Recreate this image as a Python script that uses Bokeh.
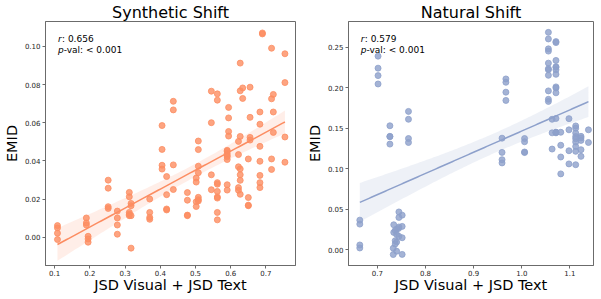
import numpy as np
from bokeh.plotting import figure
from bokeh.layouts import row
from bokeh.models import Range1d, FixedTicker, PrintfTickFormatter, Label
from bokeh.embed import file_html
from bokeh.resources import INLINE

# ---- Synthetic Shift data ----
syn_x = ([0.108]*4 + [0.190]*3 + [0.195]*3 + [0.252]*4 + [0.278]*4 + [0.312]*5 + [0.317]*4 +
         [0.370]*4 + [0.405]*4 + [0.418]*4 + [0.437]*4 + [0.477]*4 + [0.502]*4 + [0.508]*7 +
         [0.545]*4 + [0.562]*9 + [0.590]*8 + [0.594]*4 + [0.622]*5 + [0.627]*7 + [0.634]*2 +
         [0.650]*4 + [0.655]*4 + [0.683]*7 + [0.690]*2 + [0.716]*4 + [0.721]*3 + [0.754]*4)
syn_y = ([0.0061, 0.0049, 0.0021, -0.0012] +
         [0.0101, 0.0075, 0.0064] +
         [0.0005, -0.0009, -0.0026] +
         [0.0299, 0.0257, 0.0160, 0.0151] +
         [0.0137, 0.0101, 0.0064, 0.0016] +
         [0.0235, 0.0212, 0.0130, 0.0120, 0.0113] +
         [0.0177, 0.0165, 0.0113, -0.0057] +
         [0.0200, 0.0130, 0.0104, 0.0094] +
         [0.0585, 0.0460, 0.0377, 0.0357] +
         [0.0318, 0.0223, 0.0148, 0.0143] +
         [0.0712, 0.0667, 0.0379, 0.0250] +
         [0.0234, 0.0194, 0.0116, 0.0113] +
         [0.0310, 0.0289, 0.0186, 0.0161] +
         [0.0504, 0.0459, 0.0372, 0.0338, 0.0209, 0.0197, 0.0190] +
         [0.0765, 0.0600, 0.0327, 0.0249] +
         [0.0751, 0.0718, 0.0286, 0.0278, 0.0240, 0.0211, 0.0205, 0.0130, 0.0091] +
         [0.0455, 0.0450, 0.0438, 0.0428, 0.0421, 0.0407, 0.0275, 0.0247] +
         [0.0680, 0.0625, 0.0554, 0.0530] +
         [0.0502, 0.0433, 0.0369, 0.0260, 0.0246] +
         [0.0912, 0.0767, 0.0358, 0.0327, 0.0298, 0.0225, 0.0528] +
         [0.0782, 0.0727] +
         [0.0410, 0.0208, 0.0168, 0.0165] +
         [0.0786, 0.0628, 0.0523, 0.0509] +
         [0.0656, 0.0592, 0.0476, 0.0398, 0.0324, 0.0286, 0.0260] +
         [0.1070, 0.1065] +
         [0.0990, 0.0725, 0.0410, 0.0355] +
         [0.0748, 0.0656, 0.0549] +
         [0.0961, 0.0810, 0.0525, 0.0393])

# ---- Natural Shift data ----
nat_x = ([0.6635]*4 + [0.7014]*4 + [0.726]*4 + [0.7646]*4 +
         [0.7447, 0.7515, 0.7447, 0.734, 0.7515, 0.7447, 0.740, 0.734, 0.740, 0.7447,
          0.7515, 0.737, 0.740, 0.737, 0.733, 0.740, 0.733, 0.7515, 0.737, 0.744] +
         [0.959]*4 + [0.967]*4 + [1.0058]*4 + [1.0553]*11 + [1.063]*3 + [1.071]*14 +
         [1.081]*4 + [1.098]*4 + [1.112]*9 + [1.123]*5 + [1.1385]*2)
nat_y = ([0.0367, 0.0318, 0.0061, 0.0024] +
         [0.2388, 0.2240, 0.2148, 0.2045] +
         [0.1530, 0.1400, 0.1395, 0.1304] +
         [0.1707, 0.1610, 0.1373, 0.1324] +
         [0.0468, 0.0428, 0.0400, 0.0310, 0.0290, 0.0283, 0.0257, 0.0216, 0.0190, 0.0167,
          0.0150, 0.0113, 0.0097, 0.0073, 0.0021, -0.0016, -0.0057, -0.0055, 0.0240, 0.0265] +
         [0.1377, 0.1202, 0.1112, 0.1072] +
         [0.2107, 0.2066, 0.1944, 0.1842] +
         [0.1373, 0.1333, 0.1207, 0.1200] +
         [0.2681, 0.2600, 0.2478, 0.2450, 0.2302, 0.2233, 0.2220, 0.2152, 0.1960, 0.1856, 0.1830] +
         [0.1610, 0.1243, 0.1443] +
         [0.2567, 0.2555, 0.2335, 0.2258, 0.2250, 0.2220, 0.2164, 0.2009, 0.1995, 0.1936,
          0.1620, 0.1450, 0.1443, 0.1450] +
         [0.1450, 0.1290, 0.1145, 0.0937] +
         [0.1618, 0.1480, 0.1222, 0.1060] +
         [0.1528, 0.1500, 0.1440, 0.1397, 0.1370, 0.1330, 0.1275, 0.1215, 0.1050] +
         [0.1400, 0.1380, 0.1350, 0.1153, 0.1235] +
         [0.1480, 0.1324])

syn_xticks = [0.1, 0.2, 0.3, 0.4, 0.5, 0.6, 0.7]
syn_yticks = [0.0, 0.02, 0.04, 0.06, 0.08, 0.10]
nat_xticks = [0.7, 0.8, 0.9, 1.0, 1.1]
nat_yticks = [0.0, 0.05, 0.10, 0.15, 0.20, 0.25]
syn_stats = ("0.656", "< 0.001")
nat_stats = ("0.579", "< 0.001")

FONT = "DejaVu Sans"
SPINE = "#6b6b6b"


def regression(xs, ys):
    x = np.asarray(xs, float)
    y = np.asarray(ys, float)
    n = len(x)
    b, a = np.polyfit(x, y, 1)
    grid = np.linspace(x.min(), x.max(), 100)
    fit = a + b * grid
    resid = y - (a + b * x)
    s = np.sqrt(np.sum(resid ** 2) / (n - 2))
    sxx = np.sum((x - x.mean()) ** 2)
    se = s * np.sqrt(1.0 / n + (grid - x.mean()) ** 2 / sxx)
    return grid, fit, fit - 1.98 * se, fit + 1.98 * se


def make(title, xs, ys, color, xr, yr, xticks, yticks, xfmt, stats, fw, mleft, mright):
    p = figure(frame_width=fw, frame_height=244, x_range=Range1d(*xr), y_range=Range1d(*yr),
               output_backend="svg", toolbar_location=None,
               min_border_left=mleft, min_border_right=mright,
               min_border_top=0, min_border_bottom=0)
    p.title.text = title
    p.title.align = "center"
    p.title.text_font = FONT
    p.title.text_font_size = "16px"
    p.title.text_font_style = "normal"
    p.title.text_color = "black"
    p.title.standoff = 0
    p.title.offset = 0
    p.grid.visible = False
    p.outline_line_color = SPINE
    p.outline_line_width = 1
    p.outline_line_alpha = 1
    for ax in (p.xaxis, p.yaxis):
        ax.axis_line_color = SPINE
        ax.major_tick_line_color = SPINE
        ax.minor_tick_line_color = None
        ax.major_tick_out = 3
        ax.major_tick_in = 0
        ax.major_label_text_font = FONT
        ax.major_label_text_font_size = "7px"
        ax.major_label_text_color = "#262626"
        ax.major_label_standoff = 2
        ax.axis_label_text_font = FONT
        ax.axis_label_text_font_size = "14.5px"
        ax.axis_label_text_font_style = "normal"
        ax.axis_label_text_color = "black"
        ax.axis_label_standoff = 2
    p.xaxis.major_label_standoff = 1
    p.xaxis.axis_label_standoff = -2
    p.xaxis.axis_label = "JSD Visual + JSD Text"
    p.yaxis.axis_label = "EMID"
    p.xaxis.ticker = FixedTicker(ticks=xticks)
    p.yaxis.ticker = FixedTicker(ticks=yticks)
    p.xaxis.formatter = PrintfTickFormatter(format=xfmt)
    p.yaxis.formatter = PrintfTickFormatter(format="%.2f")

    grid, fit, lo, hi = regression(xs, ys)
    p.varea(x=grid, y1=lo, y2=hi, fill_color=color, fill_alpha=0.15)
    p.scatter(xs, ys, size=6, fill_color=color, line_color=color, fill_alpha=0.8, line_alpha=0.8)
    p.line(grid, fit, line_color=color, line_width=1.5)

    lx = xr[0] + 0.05 * (xr[1] - xr[0])
    ly1 = yr[1] - 0.072 * (yr[1] - yr[0])
    ly2 = yr[1] - 0.117 * (yr[1] - yr[0])
    common = dict(text_font=FONT, text_font_size="9px", text_color="black",
                  text_baseline="alphabetic", text_align="left")
    p.add_layout(Label(x=lx, y=ly1, text="r", text_font_style="italic", **common))
    p.add_layout(Label(x=lx, y=ly1, x_offset=4, text=": " + stats[0], **common))
    p.add_layout(Label(x=lx, y=ly2, text="p", text_font_style="italic", **common))
    p.add_layout(Label(x=lx, y=ly2, x_offset=5.7, text="-val: " + stats[1], **common))
    return p


p1 = make("Synthetic Shift", syn_x, syn_y, "#fc8d62", (0.074, 0.784), (-0.0148, 0.113),
          syn_xticks, syn_yticks, "%.1f", syn_stats, 250, 36, 3)
p2 = make("Natural Shift", nat_x, nat_y, "#8da0cb", (0.64, 1.149), (-0.0192, 0.2815),
          nat_xticks, nat_yticks, "%.1f", nat_stats, 245, 50, 1)

layout = row(p1, p2)
open("out.html", "w").write(file_html(layout, INLINE))
